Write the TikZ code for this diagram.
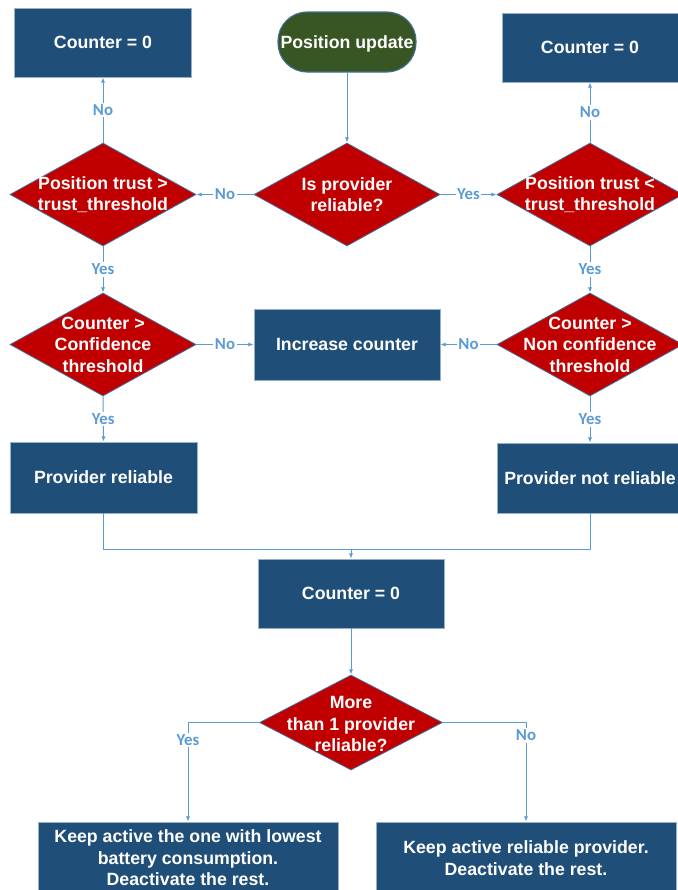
\documentclass[tikz,border=0pt]{standalone}
\usepackage{fontspec}
\setmainfont{Liberation Sans}
\newfontfamily\lblfont{Carlito}
\usetikzlibrary{arrows.meta,shapes.geometric}

\definecolor{boxblue}{RGB}{31,78,121}
\definecolor{decred}{RGB}{192,0,0}
\definecolor{startgreen}{RGB}{55,86,35}
\definecolor{linkblue}{RGB}{91,155,213}
\definecolor{edgeblue}{RGB}{65,113,156}

\def\u{0.75pt}

\tikzset{
  procbox/.style={rectangle, fill=boxblue, draw=edgeblue!55, line width=0.6pt,
    text=white, align=center, inner sep=0pt,
    font=\bfseries\fontsize{13.3}{16.1}\selectfont},
  startbox/.style={rectangle, rounded corners={29*\u}, fill=startgreen,
    draw=edgeblue, line width=0.8pt, text=white, inner sep=0pt, text depth=0pt,
    font=\bfseries\fontsize{13.3}{16.1}\selectfont,
    minimum width={138*\u}, minimum height={60*\u}},
  decision/.style={diamond, fill=decred, draw=edgeblue, line width=0.6pt,
    inner sep=0pt, minimum width={186*\u}, minimum height={103*\u}},
  dtext/.style={text=white, align=center, inner sep=0pt,
    font=\bfseries\fontsize{13.3}{16.1}\selectfont},
  link/.style={draw=linkblue, line width=0.75pt, -{Latex[length=4pt,width=3.2pt]}},
  lbl/.style={fill=white, inner sep=1.2pt, text=linkblue,
    font=\lblfont\bfseries\fontsize{12.6}{14}\selectfont}
}

\begin{document}
\begin{tikzpicture}[x=\u,y=-\u]
  \useasboundingbox (0,0) rectangle (678,890);

  %------------------
  % top row
  %------------------
  \node[procbox, minimum width={177*\u}, minimum height={69*\u}] (cntL) at (103,42.5) {Counter = 0};
  \node[startbox] (start) at (347,42) {Position update};
  \node[procbox, minimum width={176*\u}, minimum height={69*\u}] (cntR) at (590,47.5) {Counter = 0};

  %------------------
  % first decisions
  %------------------
  \node[decision] (isRel) at (347,194.5) {};
  \node[dtext] (isRelT) at (isRel) {Is provider\\reliable?};
  \node[decision] (trustGt) at (103,194.5) {};
  \node[dtext] (trustGtT) at (trustGt) {Position trust >\\trust\_threshold};
  \node[decision] (trustLt) at (590,194.5) {};
  \node[dtext] (trustLtT) at (trustLt) {Position trust <\\trust\_threshold};

  %------------------
  % counter checks
  %------------------
  \node[decision] (confGt) at (103,344.5) {};
  \node[dtext] (confGtT) at (confGt) {Counter >\\Confidence\\threshold};
  \node[procbox, minimum width={186*\u}, minimum height={71*\u}] (incCnt) at (347,344.5) {Increase counter};
  \node[decision] (nconfGt) at (590,344.5) {};
  \node[dtext] (nconfGtT) at (nconfGt) {Counter >\\Non confidence\\threshold};

  \node[procbox, minimum width={187*\u}, minimum height={71*\u}] (provRel) at (103.5,477.5) {Provider reliable};
  \node[procbox, minimum width={186*\u}, minimum height={70*\u}] (provNRel) at (590,478) {Provider not reliable};

  %------------------
  % bottom part
  %------------------
  \coordinate (join) at (351,549);
  \node[procbox, minimum width={186*\u}, minimum height={69*\u}] (cntB) at (351,593.5) {Counter = 0};
  \node[decision, minimum width={183*\u}, minimum height={95*\u}] (more) at (351,722.5) {};
  \node[dtext] (moreT) at (351,724) {More\\than 1 provider\\reliable?};
  \node[procbox, minimum width={300*\u}, minimum height={72*\u}] (keepLow) at (188,858)
    {Keep active the one with lowest\\battery consumption.\\Deactivate the rest.};
  \node[procbox, minimum width={300*\u}, minimum height={72*\u}] (keepRel) at (526,858)
    {Keep active reliable provider.\\Deactivate the rest.};

  %------------------
  % connectors
  %------------------
  \draw[link] (start) -- (isRel);
  \draw[link] (isRel.west) -- node[lbl]{No} (trustGt.east);
  \draw[link] (isRel.east) -- node[lbl]{Yes} (trustLt.west);
  \draw[link] (trustGt.north) -- node[lbl]{No} (cntL.south);
  \draw[link] (trustLt.north) -- node[lbl]{No} (cntR.south);
  \draw[link] (trustGt.south) -- node[lbl]{Yes} (confGt.north);
  \draw[link] (trustLt.south) -- node[lbl]{Yes} (nconfGt.north);
  \draw[link] (confGt.east) -- node[lbl]{No} (incCnt.west);
  \draw[link] (nconfGt.west) -- node[lbl]{No} (incCnt.east);
  \draw[link] (confGt.south) -- node[lbl]{Yes} (provRel.north);
  \draw[link] (nconfGt.south) -- node[lbl]{Yes} (provNRel.north);

  \draw[draw=linkblue, line width=0.75pt] (provRel.south) |- (join);
  \draw[draw=linkblue, line width=0.75pt] (provNRel.south) |- (join);
  \draw[link] (join) -- (cntB.north);
  \draw[link] (cntB) -- (more);
  \draw[link] (more.west) -| node[lbl, pos=0.59]{Yes} (keepLow.north);
  \draw[link] (more.east) -| node[lbl, pos=0.565]{No} (keepRel.north);
\end{tikzpicture}
\end{document}
